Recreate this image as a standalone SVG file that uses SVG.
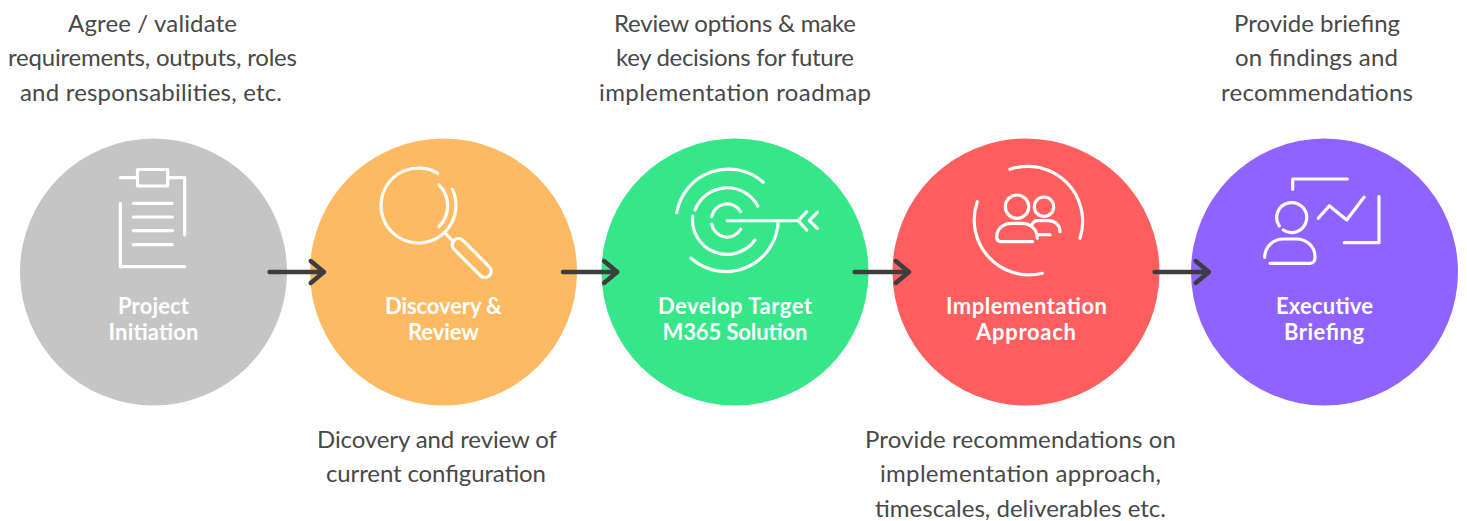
<svg xmlns="http://www.w3.org/2000/svg" width="1467" height="521" viewBox="0 0 1467 521">
<defs><style>
.i{fill:none;stroke:#fff;stroke-width:3.2;stroke-linecap:round;stroke-linejoin:round}
.a{fill:none;stroke:#3d3d3d;stroke-width:4.4;stroke-linecap:round;stroke-linejoin:round}
.t{font-family:"Lato","Liberation Sans",sans-serif;font-size:24px;fill:#484848;text-anchor:middle}
.l{font-family:"Lato","Liberation Sans",sans-serif;font-size:22px;font-weight:700;fill:#fff;text-anchor:middle}
</style></defs>
<rect width="1467" height="521" fill="#fff"/>
<g id="node-initiation">
<circle cx="153.5" cy="272" r="133.5" fill="#c5c5c5"/>
<path class="i" d="M120.5 177.7H137.5M167.7 177.7H184.7V235M120.3 203.3V266.7H184.7M133.3 203.3H172.3M133.3 217H172.3M133.3 230.7H172.3M133.3 244.7H172.3"/>
<rect class="i" x="137.5" y="169.5" width="30.2" height="16.5"/>
<text class="l" x="153.5" y="313.5" textLength="71" lengthAdjust="spacing">Project</text>
<text class="l" x="153.5" y="339.5" textLength="90" lengthAdjust="spacing">Initiation</text>
</g>
<g id="node-discovery">
<circle cx="443.5" cy="272" r="133.5" fill="#fdba63"/>
<path class="i" d="M437.7 173.3A37.5 37.5 0 1 0 452.3 189.3M439 185A29.5 29.5 0 0 1 439 226.7M446 234L453.3 241.7"/>
<rect class="i" x="446.7" y="251.7" width="50" height="12.6" rx="6.3" transform="rotate(45 471.7 258)"/>
<text class="l" x="443.5" y="313.5" textLength="117" lengthAdjust="spacing">Discovery &amp;</text>
<text class="l" x="443.5" y="339.5" textLength="71" lengthAdjust="spacing">Review</text>
</g>
<g id="node-develop">
<circle cx="735" cy="272" r="133.5" fill="#36e78a"/>
<path class="i" d="M676.7 212.7A52.5 52.5 0 0 1 763.3 182.3M691 258.3A52.5 52.5 0 0 0 778.3 220.7M695 210A34.5 34.5 0 0 1 757.7 206M692.7 216A34.5 34.5 0 0 0 755 240M711.7 216.7A15.7 15.7 0 0 1 740.7 211.7M711.7 224A15.7 15.7 0 0 0 740.7 229.3M727.3 220.7H798.3M806.7 211.7L798.3 220.7L806.7 230M817.3 212.3L809.3 220.7L817.3 228.3"/>
<text class="l" x="735" y="313.5" textLength="154" lengthAdjust="spacing">Develop Target</text>
<text class="l" x="735" y="339.5" textLength="145" lengthAdjust="spacing">M365 Solution</text>
</g>
<g id="node-implementation">
<circle cx="1026" cy="272" r="133.5" fill="#ff5e5e"/>
<path class="i" d="M1010 169.3A55 55 0 0 1 1080 238.3M1042.3 273.3A55 55 0 0 1 977.3 201.7M1032.7 241.7H1001.7C998 241.7 996.7 240 996.7 237C996.7 229 1003 223.3 1011.7 223.3H1021.7C1030 223.3 1037.3 229 1037.3 238.3M1031.7 225C1033 222 1035 220.7 1038.3 220.7H1048.3C1055 220.7 1060 225 1060 231.7M1038.3 234.7H1050"/>
<circle class="i" cx="1017" cy="206.7" r="11.7"/>
<circle class="i" cx="1044" cy="206.7" r="9.7"/>
<text class="l" x="1026.5" y="313.5" textLength="161" lengthAdjust="spacing">Implementation</text>
<text class="l" x="1026" y="339.5" textLength="100" lengthAdjust="spacing">Approach</text>
</g>
<g id="node-executive">
<circle cx="1324.5" cy="272" r="133.5" fill="#8f63ff"/>
<path class="i" d="M1292.7 189.3V179H1347.3M1379 196.7V242.7H1344.3M1318.3 218.3L1329.3 205.7L1346.7 220L1364 197.3M1279.3 226A15 15 0 1 1 1283.3 230M1264.7 257.3C1264.7 247 1273 239 1283.3 239H1296.7C1307 239 1315 247 1315 256.7V258C1315 261 1313 263.3 1310 263.3H1270"/>
<text class="l" x="1324.5" y="313.5" textLength="97" lengthAdjust="spacing">Executive</text>
<text class="l" x="1324" y="339.5" textLength="80" lengthAdjust="spacing">Briefing</text>
</g>
<g id="connectors">
<path class="a" d="M269.5 272H324M310.7 261L324 272L310.7 283"/>
<path class="a" d="M563 272H617.3M604 261L617.3 272L604 283"/>
<path class="a" d="M854.5 272H909M895.7 261L909 272L895.7 283"/>
<path class="a" d="M1154.5 272H1209M1195.7 261L1209 272L1195.7 283"/>
</g>
<g id="captions">
<text class="t" x="152.5" y="32" textLength="169" lengthAdjust="spacing">Agree / validate</text>
<text class="t" x="152.5" y="66" textLength="289" lengthAdjust="spacing">requirements, outputs, roles</text>
<text class="t" x="151" y="101" textLength="262" lengthAdjust="spacing">and responsabilities, etc.</text>
<text class="t" x="437" y="448" textLength="240" lengthAdjust="spacing">Dicovery and review of</text>
<text class="t" x="436" y="482" textLength="220" lengthAdjust="spacing">current configuration</text>
<text class="t" x="735" y="32" textLength="242" lengthAdjust="spacing">Review options &amp; make</text>
<text class="t" x="735" y="66" textLength="238" lengthAdjust="spacing">key decisions for future</text>
<text class="t" x="735" y="101" textLength="272" lengthAdjust="spacing">implementation roadmap</text>
<text class="t" x="1020.5" y="448" textLength="311" lengthAdjust="spacing">Provide recommendations on</text>
<text class="t" x="1020.5" y="482" textLength="281" lengthAdjust="spacing">implementation approach,</text>
<text class="t" x="1020.5" y="517" textLength="291" lengthAdjust="spacing">timescales, deliverables etc.</text>
<text class="t" x="1317" y="32" textLength="166" lengthAdjust="spacing">Provide briefing</text>
<text class="t" x="1316.5" y="66" textLength="163" lengthAdjust="spacing">on findings and</text>
<text class="t" x="1317" y="101" textLength="192" lengthAdjust="spacing">recommendations</text>
</g>
</svg>
